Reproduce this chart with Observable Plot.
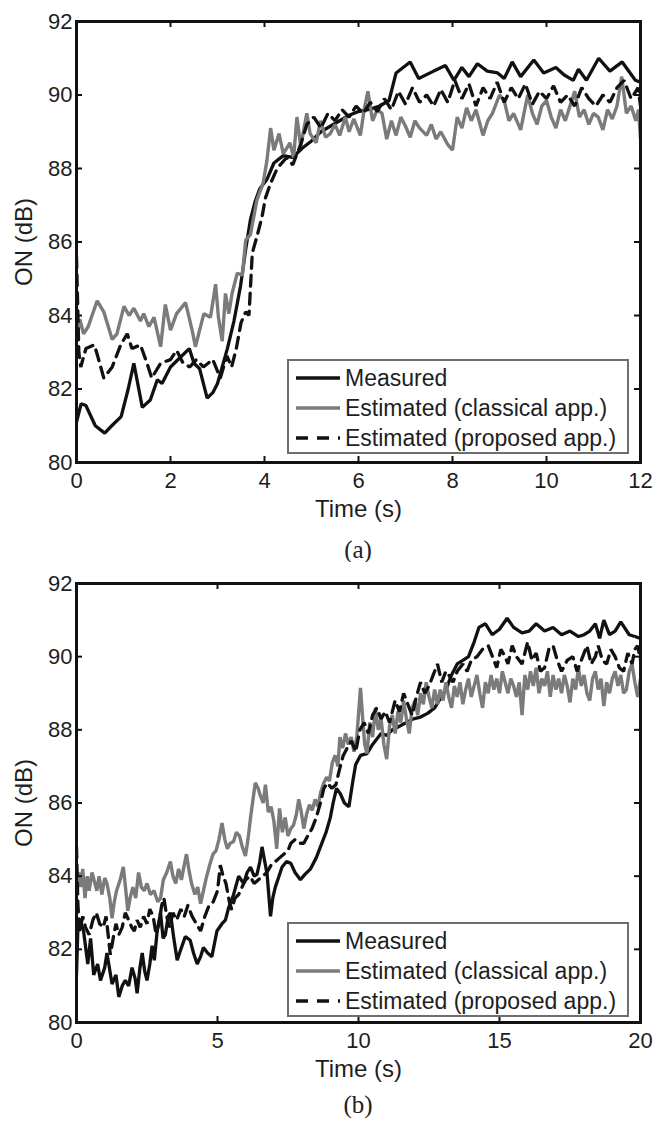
<!DOCTYPE html>
<html>
<head>
<meta charset="utf-8">
<script src="https://cdn.jsdelivr.net/npm/d3@7"></script>
<script src="https://cdn.jsdelivr.net/npm/@observablehq/plot@0.6"></script>
<style>
  html, body { margin: 0; padding: 0; background: #fff; }
  #root { position: relative; width: 654px; height: 1121px; background: #fff; overflow: hidden; }
  .panel { position: absolute; left: 0; }
  .legend { position: absolute; box-sizing: border-box; width: 342px; height: 95px; border: 2px solid #6e6e6e; background: #fff;
            font-family: "Liberation Sans", Arial, Helvetica, sans-serif; font-size: 23px; color: #1e1e1e; }
  .legend .row { position: absolute; left: 0; height: 30px; line-height: 30px; white-space: nowrap; }
  .legend svg { position: absolute; left: 6px; top: 10px; }
  .legend span { position: absolute; left: 56px; top: 0; }
  .cap { position: absolute; left: 0; width: 716px; text-align: center; font-family: "Liberation Serif", "DejaVu Serif", serif; font-size: 25px; color: #222; line-height: 30px; }
</style>
</head>
<body>
<div id="root">
  <div id="pa" class="panel" style="top:0px"></div>
  <div id="la" class="legend" style="left:287px;top:359px"></div>
  <div class="cap" style="top:535px">(a)</div>
  <div id="pb" class="panel" style="top:562px"></div>
  <div id="lb" class="legend" style="left:287px;top:922px"></div>
  <div class="cap" style="top:1090px">(b)</div>
</div>
<script>
// ---------- data ----------
const seriesNames = ["Measured", "Estimated (classical app.)", "Estimated (proposed app.)"];
const yTicks = [80, 82, 84, 86, 88, 90, 92];
const xTicksA = [0, 2, 4, 6, 8, 10, 12];
const xTicksB = [0, 5, 10, 15, 20];

// Panel (a): [time (s), ON (dB)]
const measuredA = [[0,81.1],[0.1,81.6],[0.2,81.55],[0.4,81.0],[0.6,80.8],[0.75,81.0],[0.95,81.25],[1.1,82.0],[1.22,82.7],[1.4,81.5],[1.57,81.7],[1.72,82.25],[1.82,82.15],[2.0,82.6],[2.2,82.85],[2.4,83.1],[2.5,82.7],[2.62,82.55],[2.78,81.75],[2.9,81.9],[3.0,82.15],[3.1,82.6],[3.21,83.1],[3.35,83.85],[3.49,84.8],[3.6,85.8],[3.7,86.6],[3.8,87.1],[3.9,87.45],[4.05,87.7],[4.2,88.15],[4.4,88.35],[4.6,88.3],[4.8,88.55],[5.0,88.75],[5.2,89.0],[5.4,89.15],[5.6,89.3],[5.8,89.45],[6.0,89.55],[6.2,89.6],[6.45,89.7],[6.65,89.85],[6.8,90.6],[7.1,90.9],[7.28,90.45],[7.6,90.65],[7.85,90.8],[8.03,90.4],[8.2,90.75],[8.35,90.5],[8.53,90.85],[8.74,90.65],[8.96,90.6],[9.1,90.45],[9.27,90.9],[9.45,90.5],[9.73,90.95],[9.94,90.6],[10.2,90.75],[10.37,90.55],[10.57,90.4],[10.68,90.7],[10.85,90.4],[11.11,91.0],[11.35,90.65],[11.61,90.9],[11.89,90.4],[12,90.35]];
const classicalA = [[0,83.3],[0.07,83.9],[0.15,83.5],[0.25,83.7],[0.44,84.4],[0.58,84.1],[0.76,83.35],[0.86,83.5],[1.01,84.25],[1.12,84.0],[1.22,84.2],[1.36,83.85],[1.43,84.05],[1.54,83.7],[1.65,83.95],[1.79,83.15],[1.89,84.3],[2.0,83.6],[2.13,84.05],[2.32,84.35],[2.46,83.6],[2.53,83.15],[2.71,84.05],[2.85,83.95],[2.96,84.85],[3.02,83.95],[3.1,83.3],[3.17,84.6],[3.24,84.05],[3.31,84.6],[3.42,85.15],[3.53,85.1],[3.6,86.05],[3.7,86.2],[3.84,87.15],[3.97,87.6],[4.05,88.2],[4.13,89.1],[4.2,88.5],[4.31,88.95],[4.4,88.4],[4.54,88.7],[4.62,88.3],[4.69,89.4],[4.77,88.6],[4.9,89.5],[4.97,88.95],[5.1,88.7],[5.19,89.3],[5.3,88.85],[5.4,88.95],[5.5,89.2],[5.6,88.9],[5.72,89.4],[5.8,89.0],[5.9,89.35],[6.04,88.9],[6.12,89.6],[6.2,90.1],[6.3,89.3],[6.4,89.6],[6.5,89.5],[6.6,88.8],[6.7,89.3],[6.8,88.9],[6.9,89.4],[7.0,89.15],[7.1,88.85],[7.2,89.3],[7.3,89.1],[7.45,88.9],[7.55,89.2],[7.65,88.8],[7.75,89.0],[7.9,88.65],[8.0,88.5],[8.1,89.4],[8.2,89.1],[8.3,89.65],[8.4,89.3],[8.5,89.6],[8.65,88.9],[8.75,89.3],[8.85,89.5],[9.0,90.0],[9.1,89.85],[9.2,89.3],[9.3,89.5],[9.45,89.05],[9.6,90.0],[9.7,89.5],[9.8,89.2],[9.9,89.7],[10.0,89.85],[10.1,89.4],[10.2,89.1],[10.3,89.6],[10.4,89.3],[10.5,89.7],[10.6,90.1],[10.7,89.4],[10.8,89.6],[10.9,89.2],[11.0,89.5],[11.1,89.4],[11.2,89.05],[11.3,89.6],[11.4,89.35],[11.5,89.7],[11.6,90.5],[11.7,89.5],[11.8,89.7],[11.9,89.3],[11.96,89.6],[12,88.8]];
const proposedA = [[0,85.6],[0.05,83.0],[0.09,82.6],[0.2,83.1],[0.38,83.2],[0.45,82.9],[0.58,82.3],[0.76,82.6],[0.94,83.2],[1.08,83.5],[1.18,83.1],[1.36,83.2],[1.5,82.7],[1.6,82.3],[1.79,82.7],[2.0,82.8],[2.13,83.05],[2.27,82.7],[2.41,82.6],[2.55,82.8],[2.7,82.6],[2.9,82.8],[3.06,82.3],[3.2,82.9],[3.3,82.6],[3.4,83.1],[3.5,83.8],[3.6,84.1],[3.67,84.0],[3.74,85.7],[3.85,86.2],[3.95,86.7],[4.02,87.2],[4.13,87.6],[4.27,88.0],[4.47,88.3],[4.6,88.1],[4.77,88.65],[4.9,89.2],[5.05,89.4],[5.2,89.1],[5.35,89.5],[5.5,89.3],[5.65,89.6],[5.8,89.4],[5.95,89.7],[6.1,89.5],[6.25,89.8],[6.4,89.55],[6.55,89.9],[6.7,89.6],[6.85,90.1],[7.0,89.75],[7.15,90.2],[7.3,89.8],[7.45,90.0],[7.6,89.7],[7.75,90.15],[7.9,89.8],[8.05,90.4],[8.2,89.9],[8.35,90.3],[8.5,89.7],[8.65,90.2],[8.8,89.9],[8.95,90.35],[9.1,89.8],[9.25,90.2],[9.4,89.9],[9.55,90.3],[9.7,89.75],[9.85,90.1],[10.0,89.9],[10.15,90.25],[10.3,89.8],[10.45,90.0],[10.6,89.7],[10.75,90.2],[10.9,89.9],[11.05,89.7],[11.2,90.0],[11.35,89.8],[11.5,90.2],[11.65,90.4],[11.8,89.9],[11.95,90.2],[12,89.7]];

// Panel (b): [time (s), ON (dB)]
const measuredB = [[0,81.3],[0.05,82.6],[0.12,82.8],[0.25,82.5],[0.4,81.6],[0.5,82.3],[0.61,81.3],[0.75,81.6],[0.85,81.15],[1.0,81.5],[1.08,81.9],[1.26,81.05],[1.4,81.3],[1.5,80.7],[1.62,81.0],[1.73,81.15],[1.85,81.0],[1.97,81.5],[2.08,81.2],[2.15,80.8],[2.25,81.5],[2.33,81.9],[2.42,81.4],[2.5,81.15],[2.6,81.6],[2.68,82.1],[2.76,81.7],[2.86,82.5],[2.98,83.0],[3.07,82.3],[3.15,82.4],[3.25,82.9],[3.33,83.0],[3.45,82.3],[3.57,81.7],[3.7,82.0],[3.86,82.35],[4.03,82.25],[4.15,81.9],[4.28,81.6],[4.4,81.8],[4.5,82.05],[4.65,81.9],[4.8,81.8],[4.98,82.5],[5.16,82.7],[5.28,82.8],[5.4,83.15],[5.57,83.5],[5.75,84.0],[5.93,83.8],[6.05,84.1],[6.17,84.25],[6.3,84.0],[6.4,84.05],[6.5,84.4],[6.58,84.8],[6.7,84.3],[6.76,84.05],[6.88,82.9],[6.96,83.4],[7.05,83.7],[7.18,84.0],[7.29,84.25],[7.45,84.4],[7.6,84.35],[7.75,84.1],[7.94,83.9],[8.1,84.05],[8.3,84.2],[8.5,84.5],[8.65,84.8],[8.85,85.2],[9.0,85.6],[9.1,86.0],[9.22,86.4],[9.36,86.25],[9.5,86.0],[9.66,85.9],[9.8,86.6],[9.9,87.05],[10.07,87.3],[10.3,87.35],[10.5,87.6],[10.8,87.9],[11.0,87.85],[11.2,88.0],[11.45,88.1],[11.7,88.2],[11.95,88.3],[12.2,88.35],[12.45,88.45],[12.7,88.6],[12.9,88.85],[13.1,89.1],[13.3,89.5],[13.5,89.8],[13.7,89.9],[13.9,90.0],[14.1,90.4],[14.27,90.8],[14.5,90.9],[14.74,90.6],[15.0,90.75],[15.27,91.05],[15.5,90.8],[15.8,90.65],[16.05,90.7],[16.3,90.9],[16.6,90.7],[16.9,90.8],[17.2,90.6],[17.5,90.7],[17.8,90.55],[18.0,90.6],[18.2,90.7],[18.4,90.9],[18.55,90.5],[18.7,91.0],[18.9,90.6],[19.1,90.7],[19.3,90.95],[19.6,90.6],[19.8,90.55],[20,90.5]];
const classicalB = [[0,83.5],[0.08,84.1],[0.15,83.7],[0.22,84.2],[0.3,83.4],[0.38,84.0],[0.45,83.6],[0.55,84.1],[0.62,83.9],[0.72,83.6],[0.8,84.0],[0.9,83.5],[1.0,83.95],[1.08,83.8],[1.18,83.4],[1.26,82.85],[1.34,83.3],[1.42,83.6],[1.55,83.9],[1.66,84.25],[1.75,83.6],[1.82,83.05],[1.9,83.4],[2.0,83.7],[2.1,83.4],[2.2,84.1],[2.3,83.7],[2.4,83.6],[2.5,83.8],[2.62,83.5],[2.75,83.6],[2.88,83.3],[2.98,83.4],[3.08,83.9],[3.2,84.1],[3.33,84.4],[3.42,84.0],[3.52,83.8],[3.62,84.2],[3.72,83.9],[3.82,84.3],[3.9,84.6],[3.98,84.2],[4.08,83.8],[4.2,83.5],[4.3,83.7],[4.4,83.25],[4.5,83.6],[4.6,83.95],[4.72,84.3],[4.84,84.6],[4.95,84.7],[5.05,85.0],[5.16,85.45],[5.26,85.0],[5.35,84.75],[5.45,84.9],[5.57,84.95],[5.67,85.2],[5.78,85.1],[5.88,84.8],[5.99,84.55],[6.08,85.0],[6.18,85.65],[6.26,86.1],[6.34,86.55],[6.44,86.4],[6.52,86.2],[6.62,86.0],[6.7,86.5],[6.8,85.75],[6.9,85.9],[7.0,85.5],[7.1,84.75],[7.2,85.85],[7.3,85.2],[7.4,85.6],[7.5,85.1],[7.6,85.3],[7.7,85.4],[7.8,85.7],[7.88,86.1],[7.96,85.8],[8.06,85.3],[8.16,85.7],[8.26,85.95],[8.36,85.8],[8.46,86.1],[8.56,85.9],[8.66,86.3],[8.77,86.55],[8.87,86.7],[8.97,86.6],[9.07,87.1],[9.17,87.3],[9.27,87.0],[9.34,87.8],[9.44,87.5],[9.54,87.9],[9.64,87.6],[9.74,87.8],[9.84,87.4],[9.94,87.8],[10.07,89.15],[10.15,88.3],[10.22,87.6],[10.3,87.35],[10.4,88.2],[10.5,87.8],[10.6,88.6],[10.7,88.0],[10.8,88.3],[10.9,87.6],[11.0,87.2],[11.1,88.1],[11.2,88.4],[11.3,87.9],[11.4,88.5],[11.5,88.2],[11.6,88.8],[11.7,88.3],[11.8,87.9],[11.9,88.6],[12.0,88.8],[12.1,88.4],[12.2,89.0],[12.3,88.7],[12.4,89.3],[12.5,88.9],[12.6,88.6],[12.7,89.1],[12.8,88.7],[12.9,89.1],[13.0,88.8],[13.1,89.3],[13.2,88.9],[13.3,88.6],[13.4,89.2],[13.5,88.9],[13.6,89.3],[13.7,88.7],[13.8,89.1],[13.9,89.4],[14.0,88.9],[14.1,89.2],[14.2,89.5],[14.3,89.0],[14.4,88.6],[14.5,89.3],[14.6,89.0],[14.7,89.5],[14.8,89.1],[14.9,89.4],[15.0,89.0],[15.1,89.6],[15.2,89.3],[15.3,89.0],[15.4,89.4],[15.5,89.2],[15.6,88.9],[15.7,89.3],[15.8,88.4],[15.9,89.5],[16.0,89.1],[16.1,89.6],[16.2,89.2],[16.3,89.7],[16.4,89.0],[16.5,89.4],[16.6,89.2],[16.7,89.6],[16.8,88.9],[16.9,89.5],[17.0,89.1],[17.1,89.4],[17.2,89.0],[17.3,89.5],[17.4,89.2],[17.5,88.75],[17.6,89.4],[17.7,89.1],[17.8,89.7],[17.9,89.2],[18.0,89.5],[18.1,89.0],[18.2,88.8],[18.3,89.4],[18.4,89.6],[18.5,89.1],[18.6,89.4],[18.7,88.65],[18.8,89.3],[18.9,89.0],[19.0,89.4],[19.1,89.6],[19.2,89.2],[19.3,89.5],[19.4,89.0],[19.5,89.1],[19.6,89.6],[19.7,89.8],[19.8,89.3],[19.9,88.9],[20,89.4]];
const proposedB = [[0,84.8],[0.05,83.2],[0.12,82.5],[0.22,82.9],[0.32,82.6],[0.45,82.4],[0.58,82.8],[0.7,83.0],[0.82,82.7],[0.95,82.6],[1.05,82.9],[1.2,81.85],[1.3,82.3],[1.4,82.7],[1.5,82.4],[1.62,82.6],[1.73,83.0],[1.85,82.8],[1.96,82.6],[2.05,82.5],[2.15,82.8],[2.26,82.6],[2.38,82.9],[2.5,82.7],[2.6,83.1],[2.72,82.9],[2.82,82.4],[2.92,82.7],[3.02,83.2],[3.1,83.4],[3.2,82.9],[3.3,82.6],[3.42,83.0],[3.55,82.8],[3.7,83.1],[3.82,82.9],[3.95,83.2],[4.1,82.9],[4.25,82.7],[4.4,82.5],[4.55,82.9],[4.7,83.2],[4.85,83.3],[5.0,83.6],[5.1,84.3],[5.2,84.0],[5.3,83.8],[5.42,83.3],[5.5,83.1],[5.62,83.4],[5.75,83.5],[5.9,83.75],[6.0,83.9],[6.15,84.0],[6.3,83.8],[6.45,83.9],[6.6,84.0],[6.75,84.1],[6.9,84.3],[7.05,84.4],[7.2,84.5],[7.35,84.6],[7.5,84.7],[7.6,84.9],[7.75,85.0],[7.9,84.9],[8.06,84.9],[8.2,85.1],[8.35,85.3],[8.5,85.6],[8.65,86.0],[8.77,86.4],[8.9,86.55],[9.05,86.4],[9.2,86.5],[9.32,86.9],[9.46,87.3],[9.6,87.5],[9.75,87.7],[9.9,87.4],[10.05,88.0],[10.2,88.2],[10.35,87.9],[10.5,88.4],[10.65,88.6],[10.8,88.3],[10.95,88.5],[11.1,88.2],[11.3,88.8],[11.45,88.5],[11.6,89.0],[11.75,88.7],[11.9,88.4],[12.05,88.9],[12.2,89.3],[12.35,89.0],[12.5,89.2],[12.65,89.5],[12.8,89.8],[12.95,89.3],[13.1,89.6],[13.2,89.5],[13.35,89.3],[13.5,89.6],[13.7,89.8],[13.85,89.6],[14.0,89.9],[14.2,90.0],[14.4,90.2],[14.6,90.3],[14.75,90.0],[14.9,89.7],[15.05,90.2],[15.2,90.0],[15.3,89.8],[15.45,90.3],[15.6,90.0],[15.8,89.8],[16.0,90.4],[16.15,89.9],[16.3,90.1],[16.45,89.6],[16.6,89.7],[16.75,90.2],[16.9,90.3],[17.05,89.9],[17.2,89.6],[17.4,89.9],[17.6,90.0],[17.75,89.6],[17.9,89.9],[18.1,90.3],[18.25,89.8],[18.4,90.0],[18.5,90.3],[18.65,89.9],[18.8,89.8],[18.95,90.2],[19.1,90.0],[19.25,89.7],[19.4,89.6],[19.55,90.1],[19.7,89.8],[19.8,90.2],[19.9,90.3],[20,89.9]];

// ---------- styling ----------
const BLACK = "#111111";
const GRAY = "#7b7b7b";
const DASH = "11,7";
const FONT = "'Liberation Sans', Arial, Helvetica, sans-serif";

function panel({measured, classical, proposed, xTicks, xMax, height}) {
  const mt = 21, mb = 63, ml = 76, mr = 14;
  const fh = height - mt - mb;
  const fw = 654 - ml - mr;
  const tick = 6;
  const X = d => d[0], Y = d => d[1];
  return Plot.plot({
    width: 654,
    height,
    marginTop: mt, marginBottom: mb, marginLeft: ml, marginRight: mr,
    style: {fontFamily: FONT, fontSize: "22px", color: "#1e1e1e", background: "#fff", overflow: "visible"},
    x: {domain: [0, xMax]},
    y: {domain: [80, 92]},
    marks: [
      Plot.line(measured, {x: X, y: Y, stroke: BLACK, strokeWidth: 3.3, strokeLinejoin: "miter", clip: true}),
      Plot.line(classical, {x: X, y: Y, stroke: GRAY, strokeWidth: 3.4, strokeLinejoin: "miter", clip: true}),
      Plot.line(proposed, {x: X, y: Y, stroke: BLACK, strokeWidth: 3.3, strokeDasharray: DASH, strokeLinejoin: "miter", clip: true}),
      // inward ticks on all four sides
      Plot.ruleX(xTicks, {x: d => d, insetTop: fh - tick, stroke: BLACK, strokeWidth: 2}),
      Plot.ruleX(xTicks, {x: d => d, insetBottom: fh - tick, stroke: BLACK, strokeWidth: 2}),
      Plot.ruleY(yTicks, {y: d => d, insetRight: fw - tick, stroke: BLACK, strokeWidth: 2}),
      Plot.ruleY(yTicks, {y: d => d, insetLeft: fw - tick, stroke: BLACK, strokeWidth: 2}),
      Plot.axisX({ticks: xTicks, tickSize: 0, tickPadding: 10, fontSize: 22, label: null}),
      Plot.axisX({ticks: [], tickSize: 0, fontSize: 24, label: "Time (s)", labelAnchor: "center", labelOffset: 54, labelArrow: "none"}),
      Plot.axisY({ticks: yTicks, tickSize: 0, tickPadding: 4, fontSize: 22, label: null}),
      Plot.axisY({ticks: [], tickSize: 0, fontSize: 24, label: "ON (dB)", labelAnchor: "center", labelOffset: 62, labelArrow: "none"}),
      Plot.frame({stroke: BLACK, strokeWidth: 3})
    ]
  });
}

document.getElementById("pa").append(panel({measured: measuredA, classical: classicalA, proposed: proposedA, xTicks: xTicksA, xMax: 12, height: 525}));
document.getElementById("pb").append(panel({measured: measuredB, classical: classicalB, proposed: proposedB, xTicks: xTicksB, xMax: 20, height: 523}));

function legend(id) {
  const el = document.getElementById(id);
  const styles = [
    {stroke: BLACK, dash: null},
    {stroke: GRAY, dash: null},
    {stroke: BLACK, dash: "12,9"}
  ];
  seriesNames.forEach((name, i) => {
    const row = document.createElement("div");
    row.className = "row";
    row.style.top = (2 + 30 * i) + "px";
    row.style.width = "100%";
    const s = styles[i];
    row.innerHTML = `<svg width="46" height="10"><line x1="1" y1="5" x2="45" y2="5" stroke="${s.stroke}" stroke-width="3.4" ${s.dash ? `stroke-dasharray="${s.dash}"` : ""}/></svg><span>${name}</span>`;
    el.append(row);
  });
}
legend("la");
legend("lb");
</script>
</body>
</html>
